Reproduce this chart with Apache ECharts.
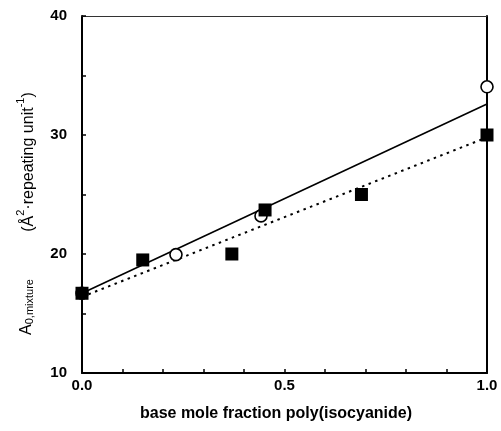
<!DOCTYPE html>
<html><head><meta charset="utf-8">
<script src="https://cdn.jsdelivr.net/npm/echarts@6/dist/echarts.min.js"></script>
<style>html,body{margin:0;padding:0;background:#fff}#c{width:501px;height:431px}</style>
</head><body><div id="c"></div>
<script>
// data
const squareX = [0.0, 0.15, 0.37, 0.452, 0.69, 1.0];
const squareY = [16.7, 19.5, 20.0, 23.7, 25.0, 30.0];
const circleX = [0.0, 0.232, 0.442, 1.0];
const circleY = [16.7, 19.95, 23.2, 34.05];
const solidFitX = [0.0, 1.0];
const solidFitY = [16.7, 32.6];
const dottedFitX = [0.0, 1.0];
const dottedFitY = [16.4, 29.8];
const xTicks = [0.0, 0.5, 1.0];
const yTicks = [10, 20, 30, 40];

const zip = (a, b) => a.map((v, i) => [v, b[i]]);
const FONT = '"Liberation Sans", Arial, sans-serif';

const chart = echarts.init(document.getElementById('c'), null, {renderer: 'canvas'});
chart.setOption({
  animation: false,
  backgroundColor: '#fff',
  grid: {left: 82, right: 14, top: 16, bottom: 58},
  xAxis: [{
    type: 'value', min: xTicks[0], max: xTicks[xTicks.length - 1], interval: 0.5,
    axisLine: {lineStyle: {color: '#000', width: 2}},
    axisTick: {inside: true, length: 4, lineStyle: {color: '#000', width: 1.5}},
    minorTick: {show: true, splitNumber: 5, length: 4, lineStyle: {color: '#000', width: 1.5}},
    splitLine: {show: false},
    axisLabel: {color: '#000', fontFamily: FONT, fontWeight: 'bold', fontSize: 15, margin: 5,
      formatter: v => v.toFixed(1)}
  }, {
    type: 'value', position: 'top', min: 0, max: 1,
    axisLine: {show: true, onZero: false, lineStyle: {color: '#333', width: 1}},
    axisTick: {show: false}, axisLabel: {show: false}, splitLine: {show: false}
  }],
  yAxis: [{
    type: 'value', min: yTicks[0], max: yTicks[yTicks.length - 1], interval: 10,
    axisLine: {show: true, lineStyle: {color: '#000', width: 2}},
    axisTick: {show: true, inside: true, length: 4, lineStyle: {color: '#000', width: 1.5}},
    minorTick: {show: true, splitNumber: 2, length: 4, lineStyle: {color: '#000', width: 1.5}},
    splitLine: {show: false},
    axisLabel: {color: '#000', fontFamily: FONT, fontWeight: 'bold', fontSize: 15, margin: 15}
  }, {
    type: 'value', position: 'right', min: 10, max: 40,
    axisLine: {show: true, onZero: false, lineStyle: {color: '#000', width: 2}},
    axisTick: {show: false}, axisLabel: {show: false}, splitLine: {show: false}
  }],
  series: [
    {type: 'line', data: zip(solidFitX, solidFitY), symbol: 'none',
      lineStyle: {color: '#000', width: 1.6, type: 'solid'}, z: 2},
    {type: 'line', data: zip(dottedFitX, dottedFitY), symbol: 'none',
      lineStyle: {color: '#000', width: 2, type: [2.5, 4.5]}, z: 2},
    {type: 'scatter', data: zip(circleX, circleY), symbol: 'circle', symbolSize: 12,
      itemStyle: {color: '#fff', borderColor: '#000', borderWidth: 1.6, opacity: 1}, z: 3},
    {type: 'scatter', data: zip(squareX, squareY), symbol: 'rect', symbolSize: 13,
      itemStyle: {color: '#000', opacity: 1}, z: 4}
  ],
  graphic: [
    {type: 'text', x: 276, y: 414,
      style: {text: 'base mole fraction poly(isocyanide)', fontFamily: FONT, fontWeight: 'bold',
        fontSize: 16, fill: '#000', align: 'center', verticalAlign: 'middle'}},
    {type: 'text', x: 25, y: 307, rotation: Math.PI / 2,
      style: {text: '{a|A}{s|0,mixture}', fontFamily: FONT, fill: '#000',
        align: 'center', verticalAlign: 'middle',
        rich: {a: {fontSize: 16, fontFamily: FONT, lineHeight: 20, verticalAlign: 'bottom'},
               s: {fontSize: 11, fontFamily: FONT, lineHeight: 20, verticalAlign: 'bottom', padding: [5, 0, 0, 0]}}}},
    {type: 'text', x: 26, y: 162, rotation: Math.PI / 2,
      style: {text: '{a|(Å}{p|2}{a|·repeating unit}{p|-1}{a|)}', fontFamily: FONT, fill: '#000',
        align: 'center', verticalAlign: 'middle',
        rich: {a: {fontSize: 16, fontFamily: FONT, lineHeight: 22, verticalAlign: 'bottom'},
               p: {fontSize: 11, fontFamily: FONT, lineHeight: 22, verticalAlign: 'top', padding: [0, 0, 7, 0]}}}}
  ]
});
</script></body></html>
